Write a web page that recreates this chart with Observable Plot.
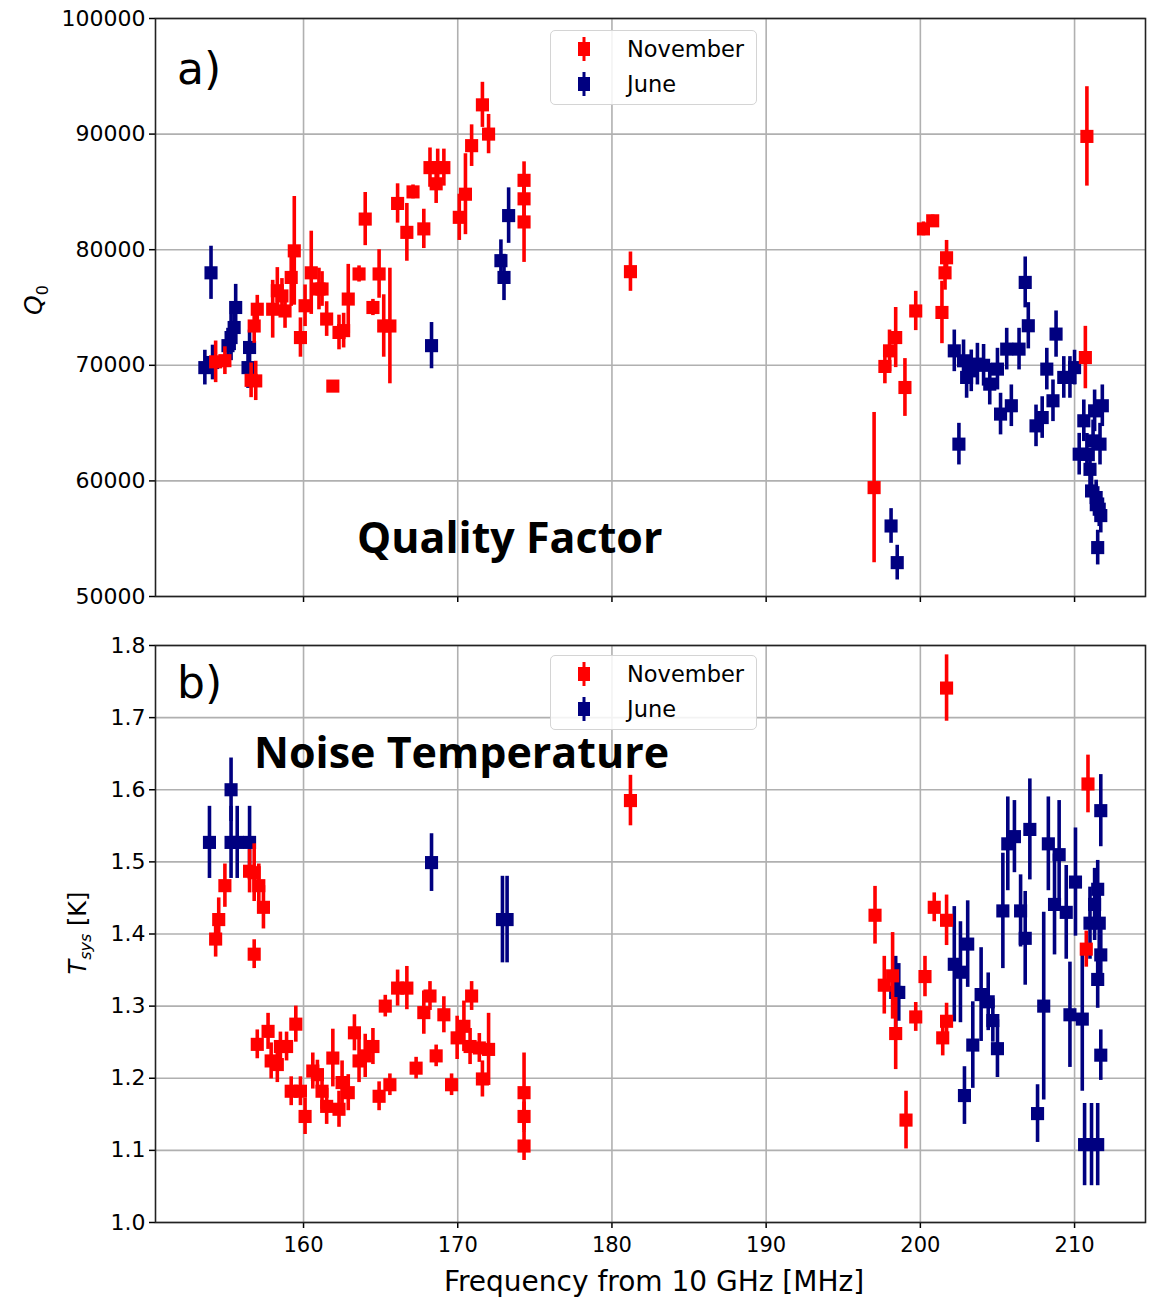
<!DOCTYPE html>
<html><head><meta charset="utf-8">
<script src="https://cdn.jsdelivr.net/npm/d3@7"></script>
<script src="https://cdn.jsdelivr.net/npm/@observablehq/plot@0.6"></script>
<style>
body{margin:0;background:#fff;}
#wrap{position:relative;width:1159px;height:1298px;font-family:"DejaVu Sans",sans-serif;overflow:hidden;}
#wrap svg{display:block;}
.ov{position:absolute;white-space:nowrap;color:#000;line-height:1;}
.rot{transform:translate(-50%,-50%) rotate(-90deg);}
.legend{position:absolute;border:1px solid #d4d4d4;border-radius:5px;background:rgba(255,255,255,0.85);box-sizing:border-box;}
.li{position:absolute;left:0;height:30px;display:flex;align-items:center;font-size:22.5px;}
.li svg{position:absolute;left:24px;}
.li span{position:absolute;left:76px;}
.note{font-family:"Open Sans",sans-serif;font-weight:700;font-size:43px;}
</style></head><body><div id="wrap"></div>
<script>
// ---- data ----
const freqTicks = [160, 170, 180, 190, 200, 210];
const qTicks = [50000, 60000, 70000, 80000, 90000, 100000];
const tTicks = [1.0, 1.1, 1.2, 1.3, 1.4, 1.5, 1.6, 1.7, 1.8];
const seriesNames = ["November", "June"];
const seriesColors = ["#ff0000", "#000080"];

// [frequency MHz, value, error]
const novQ = [
  [154.3,70300,1800],[154.9,70400,1200],[156.6,68700,1500],[156.9,68650,1700],[156.8,73400,1500],
  [157.0,74850,1200],[158.0,74850,2500],[158.3,76450,2000],[158.6,76000,1500],[158.8,74700,1500],
  [159.2,77600,2500],[159.4,79900,4700],[159.8,72400,1700],[160.1,75150,1800],[160.5,78000,3600],
  [161.0,76600,1800],[161.2,76600,1500],[161.5,74000,1500],[161.9,68200,400],[162.3,72840,1500],
  [162.6,73000,1500],[162.9,75730,3000],[163.6,77900,700],[164.0,82650,2300],[164.5,75000,700],
  [164.9,77900,2100],[165.2,73400,2700],[165.6,73400,5000],[166.1,84000,1700],[166.7,81500,2500],
  [167.1,85000,600],[167.8,81800,1700],[168.2,87100,1700],[168.6,85700,1700],[168.7,87100,1600],
  [169.1,87100,1600],[170.1,82800,2000],[170.5,84800,3500],[170.9,89000,1800],[171.6,92530,1950],
  [172.0,90000,1700],[174.3,86000,1600],[174.3,84400,2000],[174.3,82400,3500],[181.2,78100,1700],
  [197.0,59420,6500],[197.7,69900,1500],[198.0,71250,1800],[198.4,72400,2600],[199.0,68080,2500],
  [199.7,74700,1700],[200.2,81800,600],[200.8,82500,500],[201.4,74570,2700],[201.6,78000,1500],
  [201.7,79300,1500],[210.7,70670,2700],[210.8,89800,4300]
];
const junQ = [
  [153.6,69800,1500],[154.0,78000,2300],[154.1,70240,1500],[155.1,71700,1500],[155.3,72400,2000],
  [155.5,73270,2000],[155.6,75000,2000],[156.4,69800,1800],[156.5,71540,1500],[168.3,71700,2000],
  [172.8,79050,1800],[173.0,77600,2000],[173.3,82950,2400],
  [198.1,56100,1500],[198.5,52930,1500],[202.2,71250,1800],[202.5,63180,1800],[202.8,70390,1800],
  [203.0,68950,1800],[203.3,69520,1800],[203.7,70100,1800],[204.1,70000,1800],[204.5,68370,1800],
  [205.0,69670,1800],[205.2,65780,1800],[205.6,71400,1800],[205.9,66500,1800],[206.4,71400,1800],
  [206.8,77170,2200],[207.0,73420,2000],[207.5,64760,1800],[207.9,65480,1800],[208.2,69670,1800],
  [208.6,66930,1800],[208.8,72700,2000],[209.3,68950,1800],[209.7,68950,1800],[210.0,69800,1500],
  [210.3,62310,1800],[210.6,65200,1800],[210.8,62300,1800],[211.0,61000,1800],[211.1,59130,1800],
  [211.2,63460,1800],[211.3,66060,1800],[211.4,58560,1500],[211.5,58000,1500],[211.6,57550,1500],
  [211.65,63180,1800],[211.7,57000,1500],[211.8,66500,1800],[211.5,54230,1500]
];
const novT = [
  [154.3,1.393,0.025],[154.5,1.42,0.03],[154.9,1.467,0.03],[156.5,1.487,0.03],[156.8,1.485,0.04],
  [156.8,1.372,0.02],[157.1,1.467,0.03],[157.4,1.437,0.03],[157.0,1.247,0.02],[157.7,1.265,0.025],
  [157.9,1.224,0.025],[158.3,1.219,0.025],[158.5,1.244,0.02],[158.9,1.244,0.02],[159.5,1.275,0.025],
  [159.2,1.182,0.02],[159.8,1.182,0.02],[160.1,1.147,0.025],[160.6,1.21,0.025],[160.9,1.205,0.02],
  [161.2,1.182,0.025],[161.5,1.161,0.025],[161.9,1.228,0.04],[162.3,1.157,0.025],[162.5,1.194,0.03],
  [162.9,1.18,0.025],[163.3,1.263,0.025],[163.6,1.224,0.03],[164.0,1.231,0.03],[164.5,1.244,0.025],
  [164.9,1.175,0.02],[165.3,1.30,0.015],[165.6,1.191,0.015],[166.1,1.325,0.025],[166.7,1.325,0.03],
  [167.3,1.214,0.015],[167.8,1.291,0.03],[168.2,1.314,0.02],[168.6,1.231,0.015],[169.1,1.288,0.025],
  [169.6,1.191,0.015],[169.96,1.256,0.03],[170.4,1.272,0.035],[170.8,1.244,0.025],[170.9,1.314,0.02],
  [171.4,1.242,0.02],[171.6,1.199,0.025],[172.0,1.24,0.05],[174.3,1.18,0.055],[174.3,1.147,0.02],
  [174.3,1.106,0.02],[181.2,1.585,0.035],
  [197.06,1.426,0.04],[197.66,1.329,0.04],[198.2,1.342,0.06],[198.4,1.262,0.05],[199.07,1.142,0.04],
  [199.7,1.285,0.02],[200.3,1.341,0.028],[200.9,1.437,0.02],[201.7,1.419,0.035],[201.45,1.256,0.025],
  [201.7,1.279,0.025],[201.7,1.741,0.046],[210.76,1.379,0.025],[210.87,1.608,0.04]
];
const junT = [
  [153.9,1.527,0.05],[155.3,1.60,0.044],[155.3,1.527,0.05],[155.7,1.527,0.05],[156.5,1.527,0.05],
  [168.3,1.499,0.04],[172.9,1.42,0.06],[173.2,1.42,0.06],
  [198.4,1.319,0.05],[198.6,1.319,0.04],[202.2,1.358,0.08],[202.6,1.347,0.07],[203.07,1.386,0.06],
  [202.86,1.176,0.04],[203.4,1.246,0.06],[203.94,1.316,0.065],[204.4,1.306,0.04],[204.7,1.28,0.03],
  [205.0,1.241,0.04],[205.35,1.432,0.08],[205.67,1.525,0.065],[206.1,1.535,0.05],[206.5,1.432,0.05],
  [206.8,1.394,0.065],[207.1,1.545,0.07],[207.6,1.151,0.04],[208.0,1.30,0.13],[208.3,1.525,0.065],
  [208.7,1.441,0.07],[209.0,1.51,0.075],[209.46,1.43,0.065],[209.7,1.288,0.073],[210.06,1.472,0.075],
  [210.5,1.282,0.1],[210.65,1.108,0.057],[211.1,1.108,0.057],[211.5,1.108,0.057],[211.0,1.415,0.05],
  [211.3,1.441,0.05],[211.5,1.462,0.04],[211.6,1.415,0.05],[211.7,1.371,0.04],[211.5,1.337,0.04],
  [211.7,1.232,0.035],[211.7,1.571,0.05]
];

// ---- drawing ----
const toRows = (arr, s) => arr.map(([f, v, e]) => ({f, v, lo: v - e, hi: v + e, s}));

function panel({nov, jun, yDomain, yTicks, yFmt, height, mt, mb, showX}) {
  const jr = toRows(jun, "June"), nr = toRows(nov, "November");
  const ser = (rows) => [
    Plot.ruleX(rows, {x: "f", y1: "lo", y2: "hi", stroke: "s", strokeWidth: 3.6}),
    Plot.dot(rows, {x: "f", y: "v", fill: "s", symbol: "square", r: 7.4})
  ];
  return Plot.plot({
    width: 1159, height, marginLeft: 155, marginRight: 14, marginTop: mt, marginBottom: mb,
    style: {fontFamily: "DejaVu Sans", fontSize: "21px", color: "#000", background: "#fff", overflow: "visible"},
    x: {domain: [150.4, 214.6]},
    y: {domain: yDomain},
    color: {domain: seriesNames, range: seriesColors},
    marks: [
      Plot.gridX(freqTicks, {stroke: "#b0b0b0", strokeOpacity: 1, strokeWidth: 1.6}),
      Plot.gridY(yTicks, {stroke: "#b0b0b0", strokeOpacity: 1, strokeWidth: 1.6}),
      Plot.axisX(freqTicks, {tickSize: 6, tickPadding: 9, tickFormat: showX ? (d => String(d)) : (() => ""), label: null, strokeWidth: 1.5}),
      Plot.axisY(yTicks, {tickSize: 6, tickPadding: 4, tickFormat: yFmt, label: null, strokeWidth: 1.5, fontSize: 22}),
      ...ser(jr),
      ...ser(nr),
      Plot.frame({stroke: "#222", strokeWidth: 1.6})
    ]
  });
}

const wrap = document.getElementById("wrap");
wrap.appendChild(panel({nov: novQ, jun: junQ, yDomain: [50000, 100000], yTicks: qTicks, yFmt: d => String(d), height: 620, mt: 18, mb: 24, showX: false}));
wrap.appendChild(panel({nov: novT, jun: junT, yDomain: [1.0, 1.8], yTicks: tTicks, yFmt: d => d.toFixed(1), height: 678, mt: 25, mb: 76, showX: true}));

function ov(html, css, cls = "ov") {
  const d = document.createElement("div");
  d.className = cls; d.innerHTML = html; d.style.cssText = css; wrap.appendChild(d); return d;
}
function legend(top) {
  const L = ov("", `left:550px;top:${top}px;width:207px;height:75px;`, "legend");
  seriesNames.forEach((n, i) => {
    const it = document.createElement("div");
    it.className = "li"; it.style.top = (3 + i * 35) + "px"; it.style.width = "200px";
    it.innerHTML = `<svg width="18" height="26" viewBox="0 0 18 26"><line x1="9" x2="9" y1="1" y2="25" stroke="${seriesColors[i]}" stroke-width="3"/><rect x="3" y="6" width="12" height="14" fill="${seriesColors[i]}"/></svg><span>${n}</span>`;
    L.appendChild(it);
  });
}
legend(30);
legend(655);

ov("a)", "left:177px;top:47px;font-size:44px;");
ov("b)", "left:177px;top:661px;font-size:44px;");
ov("Quality Factor", "left:357px;top:515px;", "ov note");
ov("Noise Temperature", "left:254px;top:730px;", "ov note");
ov("<i>Q</i><sub style='font-size:16px'>0</sub>", "left:36px;top:300px;font-size:25px;", "ov rot");
ov("<i>T</i><sub style='font-size:16px'><i>sys</i></sub> [K]", "left:80px;top:933px;font-size:24px;", "ov rot");
ov("Frequency from 10 GHz [MHz]", "left:654px;top:1282px;font-size:28px;transform:translate(-50%,-50%);");
</script></body></html>
